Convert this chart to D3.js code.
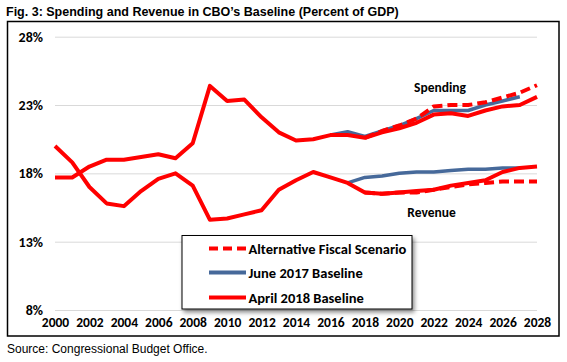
<!DOCTYPE html>
<html><head><meta charset="utf-8">
<script src="https://cdn.jsdelivr.net/npm/d3@7"></script>
<style>body{margin:0;background:#fff}</style>
</head><body><svg id="c" width="567" height="362"></svg>
<script>
const years = d3.range(2000, 2029);
const yTicks = [8, 13, 18, 23, 28];
const xTickYears = d3.range(2000, 2029, 2);
// April 2018 baseline (history + projections)
const spendApr2018 = [17.7,17.7,18.5,19.0,19.0,19.2,19.4,19.1,20.2,24.4,23.3,23.4,22.1,21.0,20.4,20.5,20.8,20.8,20.6,21.0,21.3,21.7,22.3,22.4,22.2,22.6,22.9,23.0,23.6];
const revApr2018   = [20.0,18.8,17.0,15.8,15.6,16.7,17.6,18.0,17.1,14.6,14.7,15.0,15.3,16.8,17.5,18.1,17.7,17.3,16.6,16.5,16.6,16.7,16.8,17.1,17.3,17.5,18.1,18.4,18.5];
// June 2017 baseline
const spendJun2017 = [null,null,null,null,null,null,null,null,null,null,null,null,null,null,null,null,20.8,21.05,20.7,21.1,21.5,22.0,22.6,22.6,22.6,23.0,23.3,23.6,null];
const revJun2017   = [null,null,null,null,null,null,null,null,null,null,null,null,null,null,null,null,null,17.3,17.7,17.8,18.0,18.1,18.1,18.2,18.3,18.3,18.4,18.4,null];
// Alternative fiscal scenario
const spendAlt = [null,null,null,null,null,null,null,null,null,null,null,null,null,null,null,null,null,null,20.6,21.1,21.5,22.0,22.9,23.0,23.0,23.2,23.55,23.9,24.45];
const revAlt   = [null,null,null,null,null,null,null,null,null,null,null,null,null,null,null,null,null,null,16.6,16.5,16.6,16.6,16.8,17.0,17.2,17.3,17.4,17.4,17.4];
const legendLabels = ["Alternative Fiscal Scenario","June 2017 Baseline","April 2018 Baseline"];

const RED = "#ff0000", BLUE = "#46699a";
const svg = d3.select("#c");
const x = d3.scalePoint().domain(years).range([55, 537]);
const y = d3.scaleLinear().domain([8, 28]).range([310, 36.7]);
const fontC = "Carlito, Calibri, Lato, sans-serif";

svg.append("text").attr("x", 6).attr("y", 16).attr("font-family", "Liberation Sans, Arial, sans-serif")
  .attr("font-weight", "bold").attr("font-size", 12.5).text("Fig. 3: Spending and Revenue in CBO\u2019s Baseline (Percent of GDP)");
svg.append("rect").attr("x", 7.5).attr("y", 21.5).attr("width", 551.5).attr("height", 314.5)
  .attr("fill", "#fff").attr("stroke", "#000").attr("stroke-width", 1.5);
svg.append("text").attr("x", 7).attr("y", 353).attr("font-family", "Liberation Sans, Arial, sans-serif")
  .attr("font-size", 12).text("Source: Congressional Budget Office.");

// y axis gridlines + labels
const ya = d3.axisLeft(y).tickValues(yTicks).tickSize(-(537 - 55)).tickPadding(12).tickFormat(d => d + "%");
const gy = svg.append("g").attr("transform", "translate(55,0)").call(ya);
gy.select(".domain").remove();
gy.selectAll(".tick line").attr("stroke", "#d9d9d9").attr("stroke-width", 1);
gy.selectAll(".tick text").attr("font-family", fontC).attr("font-weight", "bold").attr("font-size", 14).attr("fill", "#000");

const xa = d3.axisBottom(x).tickValues(xTickYears).tickSize(0).tickPadding(0);
const gx = svg.append("g").attr("transform", "translate(0,317)").call(xa);
gx.select(".domain").remove();
gx.selectAll(".tick text").attr("font-family", fontC).attr("font-weight", "bold").attr("font-size", 13.5).attr("fill", "#000");

const line = d3.line().defined(d => d[1] != null).x(d => x(d[0])).y(d => y(d[1]));
const pairs = arr => years.map((yr, i) => [yr, arr[i]]);
function draw(arr, color, w, dash) {
  const p = svg.append("path").attr("d", line(pairs(arr))).attr("fill", "none")
    .attr("stroke", color).attr("stroke-width", w).attr("stroke-linejoin", "round");
  if (dash) p.attr("stroke-dasharray", dash);
}
draw(spendJun2017, BLUE, 3.5);
draw(revJun2017, BLUE, 3.5);
draw(spendAlt, RED, 4, "10,5");
draw(revAlt, RED, 4, "10,5");
draw(spendApr2018, RED, 4);
draw(revApr2018, RED, 4);

svg.append("text").attr("x", 440).attr("y", 91.5).attr("text-anchor", "middle").attr("font-family", fontC)
  .attr("font-weight", "bold").attr("font-size", 13.5).text("Spending");
svg.append("text").attr("x", 431.5).attr("y", 216.5).attr("text-anchor", "middle").attr("font-family", fontC)
  .attr("font-weight", "bold").attr("font-size", 13.5).text("Revenue");

// legend
const defs = svg.append("defs");
const f = defs.append("filter").attr("id", "sh").attr("x", "-10%").attr("y", "-10%").attr("width", "130%").attr("height", "140%");
f.append("feDropShadow").attr("dx", 2).attr("dy", 3).attr("stdDeviation", 2).attr("flood-color", "#000").attr("flood-opacity", 0.45);
const lg = svg.append("g");
lg.append("rect").attr("x", 182).attr("y", 235.5).attr("width", 230).attr("height", 73.5)
  .attr("fill", "#fff").attr("stroke", "#000").attr("stroke-width", 1).attr("filter", "url(#sh)");
const styles = [{c: RED, w: 4, d: "9,5"}, {c: BLUE, w: 4, d: null}, {c: RED, w: 4, d: null}];
const rowY = [248.5, 272.5, 297.5];
legendLabels.forEach((t, i) => {
  const l = lg.append("line").attr("x1", 209).attr("x2", 246).attr("y1", rowY[i]).attr("y2", rowY[i])
    .attr("stroke", styles[i].c).attr("stroke-width", styles[i].w);
  if (styles[i].d) l.attr("stroke-dasharray", styles[i].d);
  lg.append("text").attr("x", 248.5).attr("y", rowY[i] + 5).attr("font-family", fontC)
    .attr("font-weight", "bold").attr("font-size", 14.5).text(t);
});
</script></body></html>
